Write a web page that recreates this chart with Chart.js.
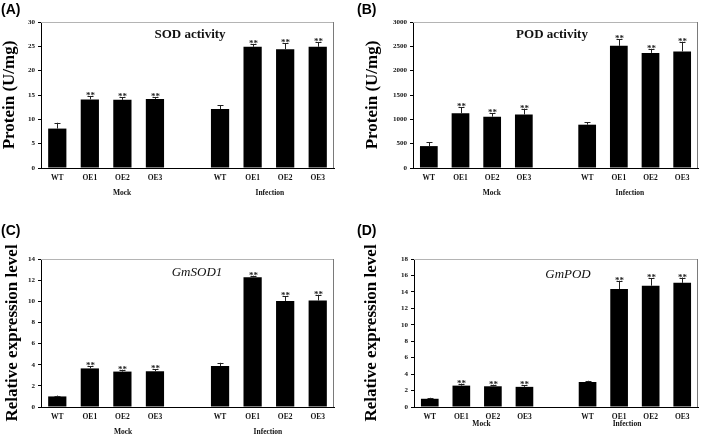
<!DOCTYPE html>
<html>
<head>
<meta charset="utf-8">
<script src="https://cdn.jsdelivr.net/npm/chart.js@4/dist/chart.umd.min.js"></script>
<style>
  html, body { margin: 0; padding: 0; background: #fff; }
  #wrap { position: relative; width: 709px; height: 438px; overflow: hidden; background: #fff; }
  canvas { position: absolute; }
</style>
</head>
<body>
<div id="wrap">
  <canvas id="cA" width="354" height="219" style="left:0;top:0"></canvas>
  <canvas id="cB" width="354" height="219" style="left:355px;top:0"></canvas>
  <canvas id="cC" width="354" height="219" style="left:0;top:219px"></canvas>
  <canvas id="cD" width="354" height="219" style="left:355px;top:219px"></canvas>
</div>
<script>
// ---------- data ----------
const categories = ['WT', 'OE1', 'OE2', 'OE3', '', 'WT', 'OE1', 'OE2', 'OE3'];
const groupLabels = ['Mock', 'Infection'];
const significance = ['', '**', '**', '**', '', '', '**', '**', '**'];

const sodActivity    = [8.1, 14.1, 14.0, 14.2, null, 12.1, 24.9, 24.4, 24.9];
const sodActivityErr = [1.2, 0.7, 0.5, 0.4, null, 0.8, 0.6, 1.2, 1.0];

const podActivity    = [450, 1125, 1055, 1100, null, 890, 2510, 2365, 2395];
const podActivityErr = [80, 120, 65, 120, null, 45, 140, 85, 200];

const gmSOD1Expr = [1.0, 3.65, 3.35, 3.38, null, 3.88, 12.27, 10.03, 10.07];
const gmSOD1Err  = [0.08, 0.22, 0.18, 0.2, null, 0.3, 0.15, 0.45, 0.55];

const gmPODExpr = [1.0, 2.6, 2.52, 2.45, null, 3.04, 14.35, 14.75, 15.1];
const gmPODErr  = [0.12, 0.25, 0.2, 0.22, null, 0.15, 1.0, 0.9, 0.65];

const yTicksSOD = { max: 30, step: 5 };
const yTicksPOD = { max: 3000, step: 500 };
const yTicksGmSOD1 = { max: 14, step: 2 };
const yTicksGmPOD = { max: 18, step: 2 };

// ---------- styling / layout ----------
const SERIF = '"Liberation Serif", "Times New Roman", serif';
const SANS = '"Liberation Sans", Arial, sans-serif';

const decor = {
  id: 'decor',
  afterDatasetsDraw(chart, args, o) {
    const ctx = chart.ctx;
    const a = chart.chartArea;
    const xs = chart.scales.x, ys = chart.scales.y;
    ctx.save();
    // frame top / right
    ctx.lineWidth = 1;
    ctx.strokeStyle = '#b4b4b4';
    ctx.beginPath(); ctx.moveTo(a.left, a.top + 0.5); ctx.lineTo(a.right, a.top + 0.5); ctx.stroke();
    ctx.strokeStyle = '#7a7a7a';
    ctx.beginPath(); ctx.moveTo(a.right - 0.5, a.top); ctx.lineTo(a.right - 0.5, a.bottom); ctx.stroke();
    // error bars + stars
    const vals = chart.data.datasets[0].data;
    ctx.strokeStyle = '#222';
    ctx.fillStyle = '#222';
    ctx.font = 'bold 9px ' + SERIF;
    ctx.textAlign = 'center';
    ctx.textBaseline = 'alphabetic';
    vals.forEach((v, i) => {
      if (v == null) return;
      const e = o.err[i];
      const x = Math.round(xs.getPixelForValue(i)) + 0.5;
      const y0 = ys.getPixelForValue(v);
      const y1 = ys.getPixelForValue(v + e);
      ctx.beginPath();
      ctx.moveTo(x, y0); ctx.lineTo(x, y1);
      ctx.moveTo(x - 3, Math.round(y1) + 0.5); ctx.lineTo(x + 3, Math.round(y1) + 0.5);
      ctx.stroke();
      if (significance[i]) ctx.fillText(significance[i], x, y1 + 2);
    });
    // inner title
    ctx.fillStyle = '#111';
    ctx.textBaseline = 'middle';
    ctx.font = (o.italic ? 'italic ' : 'bold ') + '13px ' + SERIF;
    ctx.fillText(o.title, o.titleX, o.titleY);
    // group labels
    ctx.font = 'bold 7.5px ' + SERIF;
    groupLabels.forEach((g, k) => {
      ctx.fillText(g, xs.getPixelForValue(o.groupPos[k]), o.groupY);
    });
    // panel letter
    ctx.font = 'bold 14px ' + SANS;
    ctx.textAlign = 'left';
    ctx.textBaseline = 'top';
    ctx.fillStyle = '#000';
    ctx.fillText(o.letter, o.letterX, o.letterY);
    ctx.restore();
  }
};

function makeChart(id, values, cfg) {
  new Chart(document.getElementById(id), {
    type: 'bar',
    data: {
      labels: categories,
      datasets: [{ data: values, backgroundColor: '#000', borderWidth: 0, barPercentage: 0.56, categoryPercentage: 1 }]
    },
    options: {
      responsive: false,
      animation: false,
      devicePixelRatio: 1,
      layout: { padding: { left: 0, top: cfg.area.top, right: 354 - cfg.area.right, bottom: 219 - cfg.area.bottom - 30 } },
      plugins: {
        legend: { display: false },
        tooltip: { enabled: false },
        decor: cfg.decor
      },
      scales: {
        x: {
          grid: { display: false, drawTicks: false },
          border: { display: true, color: '#000', width: 1 },
          ticks: { font: { family: SERIF, size: 7.5, weight: 'bold' }, color: '#111', padding: 6, maxRotation: 0, autoSkip: false },
          afterFit(s) { s.height = 30; }
        },
        y: {
          min: 0, max: cfg.ticks.max,
          ticks: { stepSize: cfg.ticks.step, font: { family: SERIF, size: 7, weight: 'bold' }, color: '#111', padding: 3,
                   callback: (v) => String(v) },
          grid: { drawOnChartArea: false, drawTicks: true, tickLength: 3, color: '#000' },
          border: { display: true, color: '#000', width: 1 },
          title: {
            display: true, text: cfg.yTitle, color: '#000',
            font: { family: SERIF, size: 17, weight: 'bold', lineHeight: 1 },
            padding: { top: cfg.yTitlePad, bottom: 0 }
          },
          afterFit(s) { s.width = cfg.area.left; }
        }
      }
    },
    plugins: [decor]
  });
}

makeChart('cA', sodActivity, {
  area: { left: 41, top: 22, right: 334, bottom: 168 },
  ticks: yTicksSOD, yTitle: 'Protein (U/mg)', yTitlePad: 1.5,
  decor: { err: sodActivityErr, title: 'SOD activity', italic: false, titleX: 190, titleY: 35,
           groupPos: [1.99, 6.53], groupY: 193, letter: '(A)', letterX: 1, letterY: 3 }
});
makeChart('cB', podActivity, {
  area: { left: 58, top: 22, right: 343, bottom: 168 },
  ticks: yTicksPOD, yTitle: 'Protein (U/mg)', yTitlePad: 9.5,
  decor: { err: podActivityErr, title: 'POD activity', italic: false, titleX: 197, titleY: 35,
           groupPos: [1.99, 6.35], groupY: 193, letter: '(B)', letterX: 2, letterY: 3 }
});
makeChart('cC', gmSOD1Expr, {
  area: { left: 41, top: 40, right: 334, bottom: 188 },
  ticks: yTicksGmSOD1, yTitle: 'Relative expression level', yTitlePad: 4.5,
  decor: { err: gmSOD1Err, title: 'GmSOD1', italic: true, titleX: 197, titleY: 54,
           groupPos: [2.02, 6.47], groupY: 213, letter: '(C)', letterX: 1, letterY: 5 }
});
makeChart('cD', gmPODExpr, {
  area: { left: 59, top: 40, right: 343, bottom: 188 },
  ticks: yTicksGmPOD, yTitle: 'Relative expression level', yTitlePad: 8.5,
  decor: { err: gmPODErr, title: 'GmPOD', italic: true, titleX: 213, titleY: 56,
           groupPos: [1.64, 6.25], groupY: 205, letter: '(D)', letterX: 2, letterY: 5 }
});
</script>
</body>
</html>
